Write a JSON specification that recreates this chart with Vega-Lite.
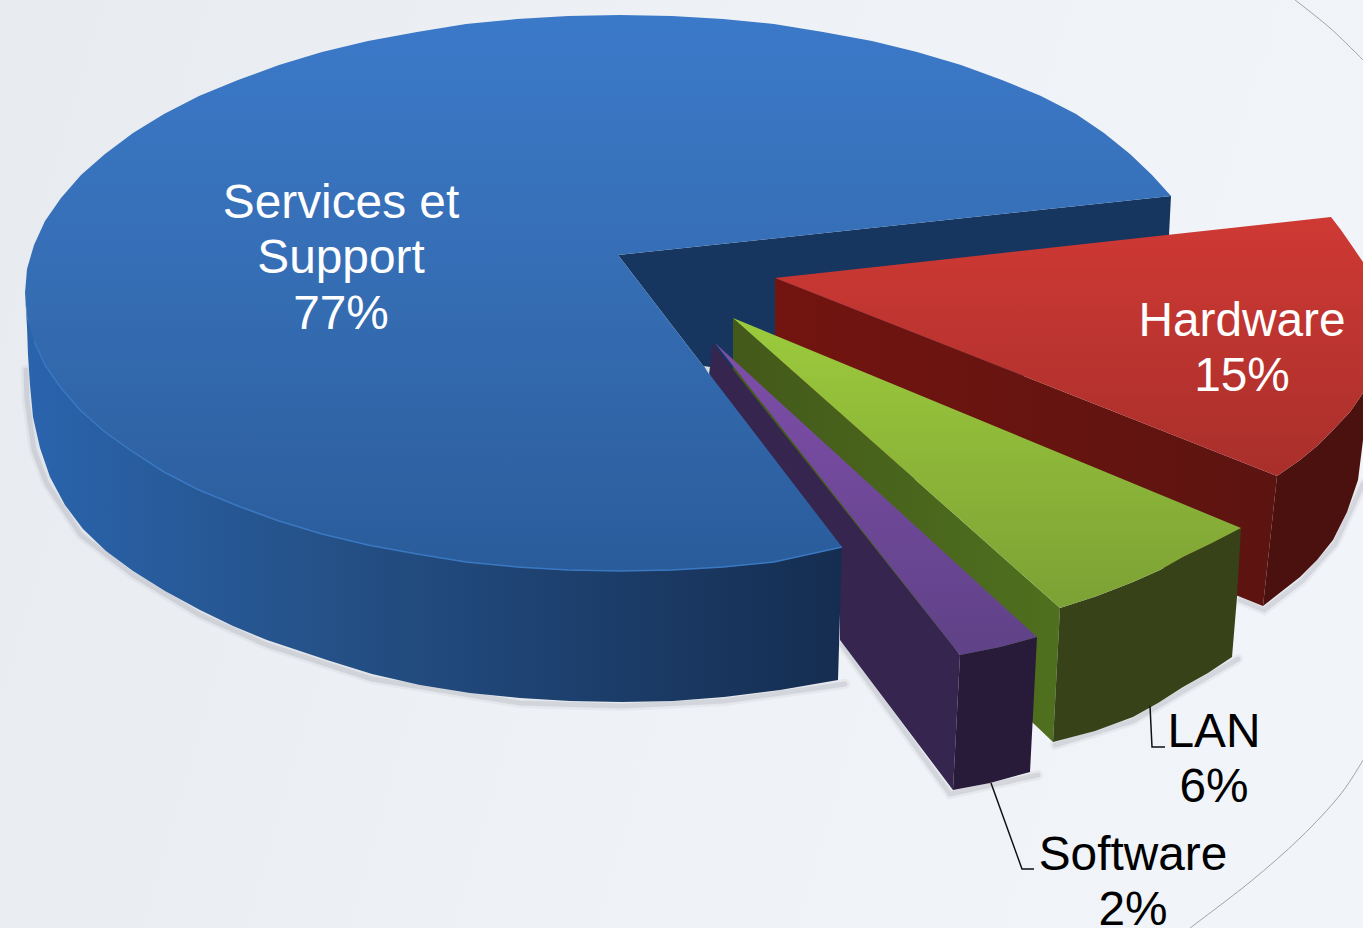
{
"$schema":"https://vega.github.io/schema/vega-lite/v6.json",
"width":1363,"height":928,"padding":0,
"autosize":{"type":"none"},
"background":"#edf0f4",
"config":{"view":{"stroke":null}},
"datasets":{
"frame":[{"x":0,"x2":1363,"y":0,"y2":928}],
"ring":[{"s":"a","x":1295,"y":0},{"s":"a","x":1330,"y":28},{"s":"a","x":1363,"y":60},{"s":"b","x":1363,"y":760},{"s":"b","x":1340,"y":795},{"s":"b","x":1300,"y":838},{"s":"b","x":1250,"y":882},{"s":"b","x":1190,"y":928}],
"leaders":[{"s":"LAN","x":1150,"y":706},{"s":"LAN","x":1152,"y":747},{"s":"LAN","x":1165,"y":747},{"s":"Software","x":991,"y":783},{"s":"Software","x":1022,"y":869},{"s":"Software","x":1034,"y":869}],
"shadow":[
{"s":"blue","x":26,"y":370},{"s":"blue","x":27,"y":400},{"s":"blue","x":34,"y":450},{"s":"blue","x":47,"y":484},{"s":"blue","x":81,"y":535},{"s":"blue","x":133,"y":575},{"s":"blue","x":200,"y":615},{"s":"blue","x":267,"y":645},{"s":"blue","x":372,"y":679},{"s":"blue","x":520,"y":703},{"s":"blue","x":622,"y":706},{"s":"blue","x":724,"y":701},{"s":"blue","x":845,"y":684},
{"s":"purple","x":842,"y":645},{"s":"purple","x":950,"y":794},{"s":"purple","x":1038,"y":775},
{"s":"green","x":1055,"y":745},{"s":"green","x":1133,"y":721},{"s":"green","x":1183,"y":691},{"s":"green","x":1238,"y":659},
{"s":"red","x":1240,"y":600},{"s":"red","x":1264,"y":610},{"s":"red","x":1302,"y":581},{"s":"red","x":1335,"y":544},{"s":"red","x":1363,"y":484}
],
"blueInner":[{"x":618,"y":255},{"x":1171,"y":196},{"x":1169,"y":235},{"x":1000,"y":400},{"x":842,"y":547}],
"blueSide":[{"x":25,"y":293},{"x":27,"y":317},{"x":45,"y":365},{"x":61,"y":388},{"x":81,"y":411},{"x":105,"y":432},{"x":133,"y":452},{"x":164,"y":472},{"x":199,"y":490},{"x":238,"y":506},{"x":279,"y":521},{"x":322,"y":534},{"x":368,"y":545},{"x":417,"y":554},{"x":466,"y":562},{"x":517,"y":567},{"x":568,"y":570},{"x":620,"y":571},{"x":672,"y":570},{"x":723,"y":567},{"x":774,"y":562},{"x":842,"y":547},{"x":838,"y":680},{"x":780,"y":690},{"x":724,"y":697},{"x":673,"y":701},{"x":622,"y":702},{"x":570,"y":701},{"x":520,"y":698},{"x":470,"y":693},{"x":420,"y":685},{"x":372,"y":674},{"x":327,"y":660},{"x":267,"y":640},{"x":233,"y":626},{"x":200,"y":610},{"x":165,"y":591},{"x":133,"y":571},{"x":106,"y":551},{"x":83,"y":529},{"x":65,"y":505},{"x":50,"y":477},{"x":40,"y":448},{"x":33,"y":417},{"x":30,"y":385},{"x":28,"y":355},{"x":27,"y":327}],
"blueTop":[{"x":618,"y":255},{"x":1171,"y":196},{"x":1152,"y":175},{"x":1130,"y":154},{"x":1104,"y":133},{"x":1076,"y":114},{"x":1041,"y":96},{"x":1002,"y":80},{"x":961,"y":65},{"x":917,"y":52},{"x":872,"y":41},{"x":823,"y":32},{"x":774,"y":24},{"x":723,"y":19},{"x":672,"y":16},{"x":620,"y":15},{"x":568,"y":16},{"x":517,"y":19},{"x":466,"y":24},{"x":417,"y":32},{"x":368,"y":41},{"x":322,"y":52},{"x":279,"y":65},{"x":238,"y":80},{"x":199,"y":96},{"x":164,"y":114},{"x":133,"y":133},{"x":105,"y":154},{"x":81,"y":175},{"x":61,"y":198},{"x":45,"y":221},{"x":34,"y":245},{"x":27,"y":269},{"x":25,"y":293},{"x":27,"y":317},{"x":34,"y":341},{"x":45,"y":365},{"x":61,"y":388},{"x":81,"y":411},{"x":105,"y":432},{"x":133,"y":452},{"x":164,"y":472},{"x":199,"y":490},{"x":238,"y":506},{"x":279,"y":521},{"x":322,"y":534},{"x":368,"y":545},{"x":417,"y":554},{"x":466,"y":562},{"x":517,"y":567},{"x":568,"y":570},{"x":620,"y":571},{"x":672,"y":570},{"x":723,"y":567},{"x":774,"y":562},{"x":842,"y":547}],
"blueRim":[{"x":34,"y":341},{"x":45,"y":365},{"x":61,"y":388},{"x":81,"y":411},{"x":105,"y":432},{"x":133,"y":452},{"x":164,"y":472},{"x":199,"y":490},{"x":238,"y":506},{"x":279,"y":521},{"x":322,"y":534},{"x":368,"y":545},{"x":417,"y":554},{"x":466,"y":562},{"x":517,"y":567},{"x":568,"y":570},{"x":620,"y":571},{"x":672,"y":570},{"x":723,"y":567},{"x":774,"y":562},{"x":842,"y":547}],
"redInner":[{"x":775,"y":278},{"x":1277,"y":476},{"x":1263,"y":606},{"x":1238,"y":596},{"x":775,"y":420}],
"redSide":[{"x":1277,"y":476},{"x":1300,"y":460},{"x":1317,"y":446},{"x":1333,"y":430},{"x":1350,"y":412},{"x":1363,"y":393},{"x":1363,"y":440},{"x":1358,"y":480},{"x":1347,"y":512},{"x":1333,"y":540},{"x":1317,"y":560},{"x":1300,"y":577},{"x":1263,"y":606}],
"redTop":[{"x":775,"y":278},{"x":1331,"y":217},{"x":1341,"y":230},{"x":1350,"y":243},{"x":1363,"y":262},{"x":1375,"y":300},{"x":1378,"y":340},{"x":1363,"y":393},{"x":1350,"y":412},{"x":1333,"y":430},{"x":1317,"y":446},{"x":1300,"y":460},{"x":1277,"y":476}],
"greenInner":[{"x":733,"y":318},{"x":1060,"y":608},{"x":1053,"y":742},{"x":1033,"y":723},{"x":733,"y":440}],
"greenSide":[{"x":1060,"y":608},{"x":1097,"y":596},{"x":1133,"y":582},{"x":1160,"y":570},{"x":1183,"y":557},{"x":1212,"y":543},{"x":1241,"y":528},{"x":1237,"y":597},{"x":1232,"y":657},{"x":1208,"y":673},{"x":1183,"y":687},{"x":1158,"y":703},{"x":1133,"y":717},{"x":1095,"y":731},{"x":1053,"y":742}],
"greenTop":[{"x":733,"y":318},{"x":1241,"y":528},{"x":1212,"y":543},{"x":1183,"y":557},{"x":1160,"y":570},{"x":1133,"y":582},{"x":1097,"y":596},{"x":1060,"y":608}],
"purpleInner":[{"x":712,"y":343},{"x":960,"y":655},{"x":953,"y":790},{"x":840,"y":640},{"x":840,"y":547},{"x":710,"y":378}],
"purpleSide":[{"x":960,"y":655},{"x":1000,"y":647},{"x":1037,"y":637},{"x":1030,"y":772},{"x":990,"y":783},{"x":953,"y":790}],
"purpleTop":[{"x":715,"y":343},{"x":1037,"y":637},{"x":1000,"y":647},{"x":960,"y":655}],
"glint":[{"x":704,"y":366},{"x":710,"y":367},{"x":709,"y":374}],
"labels":[
{"text":"Services et","tone":"light","x":341,"y":218},
{"text":"Support","tone":"light","x":341,"y":273},
{"text":"77%","tone":"light","x":341,"y":329},
{"text":"Hardware","tone":"light","x":1242,"y":336},
{"text":"15%","tone":"light","x":1242,"y":391},
{"text":"LAN","tone":"dark","x":1214,"y":747},
{"text":"6%","tone":"dark","x":1214,"y":802},
{"text":"Software","tone":"dark","x":1133,"y":870},
{"text":"2%","tone":"dark","x":1133,"y":925}
]
},
"encoding":{
"x":{"field":"x","type":"quantitative","scale":{"domain":[0,1363],"nice":false,"zero":false},"axis":null},
"y":{"field":"y","type":"quantitative","scale":{"domain":[928,0],"nice":false,"zero":false},"axis":null}
},
"layer":[
{"data":{"name":"frame"},"mark":{"type":"rect","fill":{"gradient":"linear","x1":0,"y1":0.3,"x2":1,"y2":0.5,"stops":[{"offset":0,"color":"#e8ebf0"},{"offset":0.5,"color":"#eef1f5"},{"offset":1,"color":"#f1f4f8"}]}},"encoding":{"x2":{"field":"x2"},"y2":{"field":"y2"}}},
{"data":{"name":"ring"},"mark":{"type":"line","stroke":"#9ea3a8","strokeWidth":1,"interpolate":"cardinal"},"encoding":{"detail":{"field":"s"},"order":{"value":null}}},
{"data":{"name":"shadow"},"mark":{"type":"line","stroke":"#6f7680","strokeWidth":10,"opacity":0.07,"strokeCap":"round"},"encoding":{"detail":{"field":"s"},"order":{"value":null}}},
{"data":{"name":"shadow"},"mark":{"type":"line","stroke":"#6f7680","strokeWidth":5,"opacity":0.16,"strokeCap":"round"},"encoding":{"detail":{"field":"s"},"order":{"value":null}}},
{"data":{"name":"blueInner"},"mark":{"type":"line","fill":"#17365f","stroke":null},"encoding":{"order":{"value":null}}},
{"data":{"name":"redInner"},"mark":{"type":"line","fill":{"gradient":"linear","x1":0,"y1":0,"x2":1,"y2":0,"stops":[{"offset":0,"color":"#731410"},{"offset":1,"color":"#5c1410"}]},"stroke":null},"encoding":{"order":{"value":null}}},
{"data":{"name":"redSide"},"mark":{"type":"line","fill":"#4a110e","stroke":null},"encoding":{"order":{"value":null}}},
{"data":{"name":"redTop"},"mark":{"type":"line","fill":{"gradient":"linear","x1":0,"y1":0,"x2":0,"y2":1,"stops":[{"offset":0,"color":"#cf3934"},{"offset":1,"color":"#a92f2b"}]},"stroke":null},"encoding":{"order":{"value":null}}},
{"data":{"name":"greenInner"},"mark":{"type":"line","fill":{"gradient":"linear","x1":0,"y1":0,"x2":1,"y2":0,"stops":[{"offset":0,"color":"#43591a"},{"offset":1,"color":"#4f701e"}]},"stroke":null},"encoding":{"order":{"value":null}}},
{"data":{"name":"greenSide"},"mark":{"type":"line","fill":"#374218","stroke":null},"encoding":{"order":{"value":null}}},
{"data":{"name":"greenTop"},"mark":{"type":"line","fill":{"gradient":"linear","x1":0,"y1":0,"x2":0,"y2":1,"stops":[{"offset":0,"color":"#9ccb3c"},{"offset":1,"color":"#7ca135"}]},"stroke":null},"encoding":{"order":{"value":null}}},
{"data":{"name":"purpleInner"},"mark":{"type":"line","fill":"#35254f","stroke":null},"encoding":{"order":{"value":null}}},
{"data":{"name":"purpleSide"},"mark":{"type":"line","fill":"#281a39","stroke":null},"encoding":{"order":{"value":null}}},
{"data":{"name":"purpleTop"},"mark":{"type":"line","fill":{"gradient":"linear","x1":0,"y1":0,"x2":0,"y2":1,"stops":[{"offset":0,"color":"#7f4eaa"},{"offset":1,"color":"#5f4287"}]},"stroke":null},"encoding":{"order":{"value":null}}},
{"data":{"name":"blueSide"},"mark":{"type":"line","fill":{"gradient":"linear","x1":0,"y1":0,"x2":1,"y2":0,"stops":[{"offset":0,"color":"#2a64ad"},{"offset":0.35,"color":"#255289"},{"offset":0.7,"color":"#1c3e6b"},{"offset":1,"color":"#152d50"}]},"stroke":null},"encoding":{"order":{"value":null}}},
{"data":{"name":"blueTop"},"mark":{"type":"line","fill":{"gradient":"linear","x1":0,"y1":0,"x2":0,"y2":1,"stops":[{"offset":0,"color":"#3b79c9"},{"offset":0.5,"color":"#356db3"},{"offset":1,"color":"#2a5c9b"}]},"stroke":null},"encoding":{"order":{"value":null}}},
{"data":{"name":"blueRim"},"mark":{"type":"line","stroke":"#3a78c2","strokeWidth":1.5},"encoding":{"order":{"value":null}}},
{"data":{"name":"glint"},"mark":{"type":"line","fill":"#d5dfe8","stroke":null},"encoding":{"order":{"value":null}}},
{"data":{"name":"leaders"},"mark":{"type":"line","stroke":"#111111","strokeWidth":1.5},"encoding":{"detail":{"field":"s"},"order":{"value":null}}},
{"data":{"name":"labels"},"mark":{"type":"text","font":"Liberation Sans","fontSize":47.8,"align":"center","baseline":"alphabetic"},"encoding":{"text":{"field":"text"},"color":{"field":"tone","type":"nominal","legend":null,"scale":{"domain":["light","dark"],"range":["#ffffff","#000000"]}}}}
]
}
